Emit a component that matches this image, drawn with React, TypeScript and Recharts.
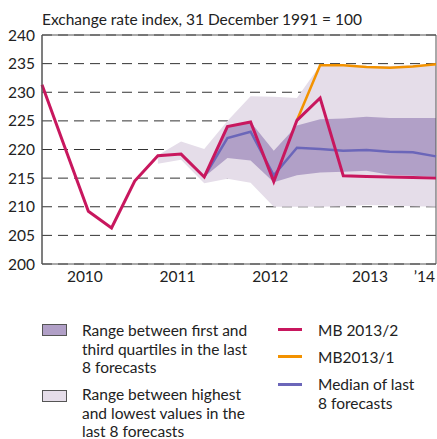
import React from "react"
import { Area, CartesianGrid, ComposedChart, Line, ReferenceArea, XAxis, YAxis } from "recharts"

// quarters from start of 2010 (index 0) to end of Q1 2014 (index 17)
const mb20132 = [231.3, 220.2, 209.2, 206.3, 214.5, 218.9, 219.2, 215.2, 224.0, 224.8, 214.4, 225.1, 229.0, 215.4, 215.3, 215.2, 215.1, 215.0]
const mb20131 = [null, null, null, null, null, null, null, null, null, null, null, 225.1, 234.7, 234.7, 234.4, 234.3, 234.5, 234.9]
const median = [null, null, null, null, null, null, null, 215.2, 222.0, 223.1, 215.5, 220.3, 220.1, 219.8, 219.9, 219.6, 219.5, 218.8]
const quartLow = [null, null, null, null, null, null, null, 215.2, 218.5, 218.1, 214.3, 215.5, 216.0, 216.1, 216.3, 215.6, 215.4, 215.2]
const quartHigh = [null, null, null, null, null, null, null, 215.2, 224.0, 224.8, 219.8, 224.2, 225.3, 225.4, 225.7, 225.5, 225.5, 225.5]
const rangeLow = [null, null, null, null, null, 217.5, 218.2, 214.1, 214.9, 214.2, 210.0, 210.0, 210.0, 210.1, 210.3, 210.2, 210.1, 210.0]
const rangeHigh = [null, null, null, null, null, 219.0, 221.4, 220.1, 225.0, 229.3, 229.2, 229.0, 234.7, 234.7, 234.6, 234.6, 234.7, 235.0]

const yTicks = [200, 205, 210, 215, 220, 225, 230, 235, 240]
const yearMarks = [4, 8, 12, 16]
const yearLabelPos = [1.85, 5.85, 9.85, 14.15, 16.5]
const yearLabels = ["2010", "2011", "2012", "2013", "’14"]

const RED = "#c8175e"
const ORANGE = "#f39200"
const BLUE = "#6b66b9"
const DARK = "#b1a0c7"
const LIGHT = "#e5dde9"
const FONT = "Lato, 'Open Sans', sans-serif"
const FS = 15.5

const data = mb20132.map((v, i) => ({
  x: i,
  red: v,
  orange: mb20131[i],
  median: median[i],
  quart: quartLow[i] != null ? [quartLow[i], quartHigh[i]] : null,
  range: rangeLow[i] != null ? [rangeLow[i], rangeHigh[i]] : null,
}))

const textStyle: React.CSSProperties = { position: "absolute", fontFamily: FONT, fontSize: FS, color: "#222", lineHeight: "18.5px", whiteSpace: "nowrap" }

function LegendBox({ color, top }: { color: string; top: number }) {
  return <div style={{ position: "absolute", left: 42, top, width: 23, height: 10, background: color, border: "1px solid #555" }} />
}

function LegendLine({ color, top }: { color: string; top: number }) {
  return <div style={{ position: "absolute", left: 278, top, width: 24, height: 3, background: color }} />
}

export default function App() {
  return (
    <div style={{ position: "absolute", left: 0, top: 0, width: 437, height: 439, background: "#fff", overflow: "hidden" }}>
      <div style={{ ...textStyle, left: 42, top: 10 }}>Exchange rate index, 31 December 1991 = 100</div>
      <ComposedChart width={437} height={290} data={data} margin={{ top: 35, right: 1, bottom: 0, left: 0 }}>
        <CartesianGrid vertical={false} stroke="#333" strokeDasharray="10 6" />
        <XAxis
          dataKey="x"
          type="number"
          domain={[0, 17]}
          ticks={yearMarks}
          height={0}
          tick={() => <g />}
          tickSize={7}
          stroke="#555"
        />
        <XAxis
          xAxisId="labels"
          dataKey="x"
          type="number"
          domain={[0, 17]}
          ticks={yearLabelPos}
          height={26}
          axisLine={false}
          tickLine={false}
          tickSize={0}
          tickMargin={7}
          interval={0}
          tickFormatter={(v) => yearLabels[yearLabelPos.indexOf(v)]}
          tick={{ fill: "#222", fontSize: FS, fontFamily: FONT }}
        />
        <YAxis
          domain={[200, 240]}
          ticks={yTicks}
          width={42}
          tickLine={false}
          tickSize={0}
          tickMargin={7}
          interval={0}
          stroke="#555"
          tick={{ fill: "#222", fontSize: FS, fontFamily: FONT }}
        />
        <Area dataKey="range" stroke="none" fill={LIGHT} fillOpacity={1} isAnimationActive={false} connectNulls={false} />
        <Area dataKey="quart" stroke="none" fill={DARK} fillOpacity={1} isAnimationActive={false} connectNulls={false} />
        <Line dataKey="median" stroke={BLUE} strokeWidth={2.5} dot={false} isAnimationActive={false} />
        <Line dataKey="orange" stroke={ORANGE} strokeWidth={2.5} dot={false} isAnimationActive={false} />
        <Line dataKey="red" stroke={RED} strokeWidth={3} dot={false} isAnimationActive={false} />
        <ReferenceArea x1={0} x2={17} y1={200} y2={240} fill="none" stroke="#555" strokeWidth={1} />
      </ComposedChart>

      <LegendBox color={DARK} top={324} />
      <div style={{ ...textStyle, left: 82, top: 321 }}>
        Range between first and<br />third quartiles in the last<br />8 forecasts
      </div>
      <LegendBox color={LIGHT} top={390} />
      <div style={{ ...textStyle, left: 82, top: 385 }}>
        Range between highest<br />and lowest values in the<br />last 8 forecasts
      </div>

      <LegendLine color={RED} top={328} />
      <div style={{ ...textStyle, left: 318, top: 321 }}>MB 2013/2</div>
      <LegendLine color={ORANGE} top={355} />
      <div style={{ ...textStyle, left: 318, top: 348 }}>MB2013/1</div>
      <LegendLine color={BLUE} top={383} />
      <div style={{ ...textStyle, left: 318, top: 375 }}>
        Median of last<br />8 forecasts
      </div>
    </div>
  )
}
